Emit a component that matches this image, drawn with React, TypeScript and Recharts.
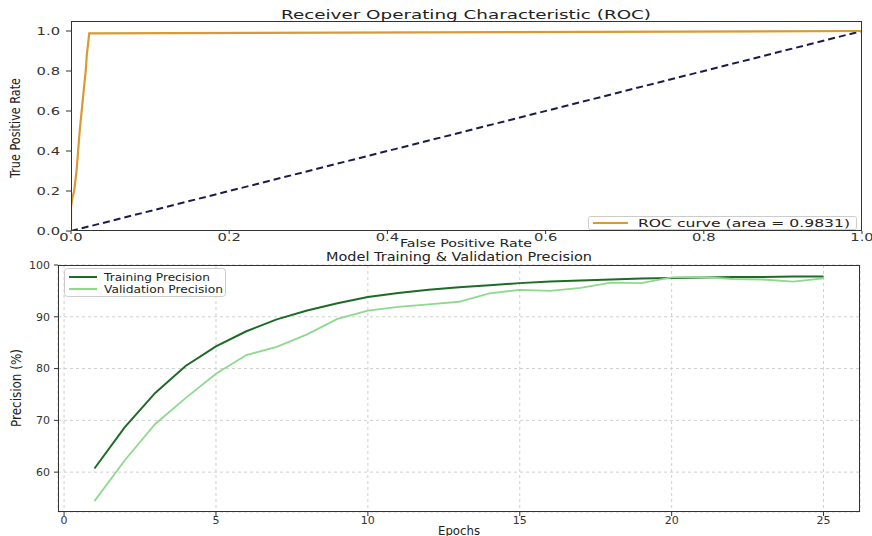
import { LineChart, Line, XAxis, YAxis, CartesianGrid } from 'recharts'

// ROC curve points
const rocFpr = [0, 0, 0.002, 0.004, 0.007, 0.009, 0.011, 0.0135, 0.016, 0.0186, 0.02, 0.022, 0.023, 1]
const rocTpr = [0, 0.12, 0.17, 0.2, 0.3, 0.4, 0.5, 0.6, 0.7, 0.8, 0.88, 0.95, 0.988, 1]
const chanceFpr = [0, 1]
const chanceTpr = [0, 1]
const rocTicks = [0, 0.2, 0.4, 0.6, 0.8, 1]

// precision per epoch
const epochs = [1, 2, 3, 4, 5, 6, 7, 8, 9, 10, 11, 12, 13, 14, 15, 16, 17, 18, 19, 20, 21, 22, 23, 24, 25]
const trainPrecision = [60.7, 68.7, 75.3, 80.5, 84.3, 87.2, 89.5, 91.2, 92.6, 93.8, 94.6, 95.2, 95.7, 96.1, 96.5, 96.8, 97.0, 97.2, 97.4, 97.5, 97.6, 97.7, 97.7, 97.8, 97.8]
const valPrecision = [54.4, 62.3, 69.3, 74.3, 79.0, 82.6, 84.2, 86.6, 89.6, 91.2, 91.9, 92.4, 92.9, 94.5, 95.2, 95.0, 95.6, 96.6, 96.5, 97.6, 97.7, 97.3, 97.2, 96.8, 97.4]
const epochTicks = [0, 5, 10, 15, 20, 25]
const precisionTicks = [60, 70, 80, 90, 100]

const rocData = rocFpr.map((f, i) => ({ fpr: f, tpr: rocTpr[i] }))
const chanceData = chanceFpr.map((f, i) => ({ fpr: f, tpr: chanceTpr[i] }))
const precData = epochs.map((e, i) => ({ epoch: e, train: trainPrecision[i], val: valPrecision[i] }))

const FONT = 'DejaVu Sans'
const ORANGE = '#d99a33'
const DARK = '#1d6b26'
const LIGHT = '#8fd98f'

// the ROC figure looks horizontally stretched, so its tick text is widened
const rocTick = (anchor: 'middle' | 'end') => (p: any) => (
  <g transform={`translate(${p.x},${p.y}) scale(1.4,1)`}>
    <text x={0} y={0} dy={anchor === 'middle' ? '0.71em' : '0.35em'} textAnchor={anchor}
      fontSize={10.5} fill="#333" fontFamily={FONT}>
      {Number(p.payload.value).toFixed(1)}
    </text>
  </g>
)

export default function App() {
  return (
    <div style={{ position: 'absolute', left: 0, top: 0, width: 872, height: 536, background: '#fff', overflow: 'hidden' }}>
      {/* ROC */}
      <div style={{ position: 'absolute', left: 0, top: 0 }}>
        <LineChart width={872} height={250} margin={{ top: 21, right: 10, bottom: 0, left: 0 }}>
          <XAxis type="number" dataKey="fpr" domain={[0, 1]} ticks={rocTicks} allowDataOverflow
            axisLine={false} tickSize={3} tickMargin={0} height={19}
            tickLine={{ stroke: '#333' }} tick={rocTick('middle')} />
          <YAxis type="number" domain={[0, 1.05]} ticks={rocTicks} allowDataOverflow
            axisLine={false} tickSize={5} tickMargin={6} width={71}
            tickLine={{ stroke: '#333' }} tick={rocTick('end')} />
          <Line data={chanceData} dataKey="tpr" type="linear" stroke="#1b1b4d" strokeWidth={2}
            strokeDasharray="7 4" dot={false} isAnimationActive={false} />
          <Line data={rocData} dataKey="tpr" type="linear" stroke={ORANGE} strokeWidth={2.2}
            dot={false} isAnimationActive={false} />
        </LineChart>
      </div>

      {/* Precision */}
      <div style={{ position: 'absolute', left: 0, top: 250 }}>
        <LineChart width={872} height={286} data={precData} margin={{ top: 15, right: 12, bottom: 0, left: 0 }}>
          <CartesianGrid stroke="#cfcfcf" strokeDasharray="3 3" />
          <XAxis type="number" dataKey="epoch" domain={[-0.2, 26.2]} ticks={epochTicks} allowDataOverflow
            axisLine={false} tickSize={4} tickMargin={0} height={24}
            tickLine={{ stroke: '#333' }} tick={{ fontSize: 11, fill: '#333', fontFamily: FONT }} />
          <YAxis type="number" domain={[52.3, 100]} ticks={precisionTicks} allowDataOverflow
            axisLine={false} tickSize={4} tickMargin={4} width={58}
            tickLine={{ stroke: '#333' }} tick={{ fontSize: 11, fill: '#333', fontFamily: FONT }} />
          <Line dataKey="train" type="linear" stroke={DARK} strokeWidth={2} dot={false} isAnimationActive={false} />
          <Line dataKey="val" type="linear" stroke={LIGHT} strokeWidth={1.8} dot={false} isAnimationActive={false} />
        </LineChart>
      </div>

      {/* frames, titles, labels, legends */}
      <svg width={872} height={536} style={{ position: 'absolute', left: 0, top: 0, pointerEvents: 'none' }}
        fontFamily={FONT} fill="#222">
        <rect x={71.5} y={21.5} width={790} height={209} fill="none" stroke="#333" />
        <rect x={58.5} y={265.5} width={801} height={246} fill="none" stroke="#333" />

        <text x={466} y={19} fontSize={12} textAnchor="middle" textLength={370} lengthAdjust="spacingAndGlyphs">
          Receiver Operating Characteristic (ROC)
        </text>
        <text x={466} y={247} fontSize={10} textAnchor="middle" textLength={132} lengthAdjust="spacingAndGlyphs">
          False Positive Rate
        </text>
        <text transform="translate(19.5,128) scale(1.35,1) rotate(-90)" fontSize={10.5} textAnchor="middle"
          textLength={100} lengthAdjust="spacingAndGlyphs">
          True Positive Rate
        </text>

        <rect x={588.5} y={216.5} width={268} height={13} rx={2} fill="#fff" fillOpacity={0.85} stroke="#cccccc" />
        <line x1={593} x2={628} y1={223} y2={223} stroke={ORANGE} strokeWidth={2} />
        <text x={638} y={227} fontSize={10} textLength={212} lengthAdjust="spacingAndGlyphs">
          ROC curve (area = 0.9831)
        </text>

        <text x={459} y={261} fontSize={12.5} textAnchor="middle" textLength={266} lengthAdjust="spacingAndGlyphs">
          Model Training &amp; Validation Precision
        </text>
        <text x={459} y={535} fontSize={11.5} textAnchor="middle" textLength={42} lengthAdjust="spacingAndGlyphs">
          Epochs
        </text>
        <text transform="translate(21,388) scale(1.3,1) rotate(-90)" fontSize={11} textAnchor="middle"
          textLength={78} lengthAdjust="spacingAndGlyphs">
          Precision (%)
        </text>

        <rect x={64.5} y={268.5} width={161} height={28} rx={3} fill="#fff" fillOpacity={0.85} stroke="#cccccc" />
        <line x1={69} x2={97} y1={277} y2={277} stroke={DARK} strokeWidth={2} />
        <line x1={69} x2={97} y1={289} y2={289} stroke={LIGHT} strokeWidth={2} />
        <text x={104} y={281} fontSize={11} textLength={106} lengthAdjust="spacingAndGlyphs">Training Precision</text>
        <text x={104} y={293} fontSize={11} textLength={119} lengthAdjust="spacingAndGlyphs">Validation Precision</text>
      </svg>
    </div>
  )
}
